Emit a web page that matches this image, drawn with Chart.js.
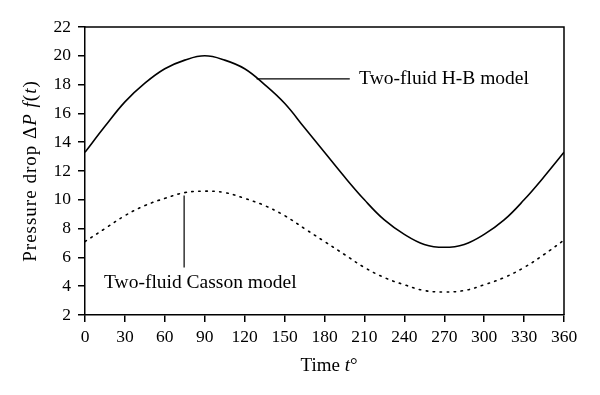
<!DOCTYPE html>
<html>
<head>
<meta charset="utf-8">
<script src="https://cdn.jsdelivr.net/npm/chart.js@4"></script>
<style>
  html, body { margin: 0; padding: 0; background: #fff; }
  #wrap { width: 600px; height: 395px; }
</style>
</head>
<body>
<div id="wrap"><canvas id="pressure-chart" width="600" height="395"></canvas></div>
<script>
// Time (degrees) and pressure drop
const timeDeg = [0, 15, 30, 45, 60, 75, 90, 105, 120, 135, 150, 165, 180,
                 195, 210, 225, 240, 255, 270, 285, 300, 315, 330, 345, 360];
const hbModel = [13.3, 15.1, 16.8, 18.1, 19.1, 19.7, 20.0, 19.7, 19.1, 18.0, 16.7, 15.0, 13.3,
                 11.6, 10.0, 8.6, 7.6, 6.9, 6.7, 6.9, 7.6, 8.6, 10.0, 11.6, 13.3];
const cassonModel = [7.1, 8.0, 8.9, 9.6, 10.1, 10.5, 10.6, 10.5, 10.1, 9.6, 8.9, 8.0, 7.1,
                     6.2, 5.3, 4.6, 4.1, 3.7, 3.6, 3.7, 4.1, 4.6, 5.3, 6.2, 7.2];
const xTicks = [0, 30, 60, 90, 120, 150, 180, 210, 240, 270, 300, 330, 360];
const yTicks = [2, 4, 6, 8, 10, 12, 14, 16, 18, 20, 22];

const FONT = '"Liberation Serif", "DejaVu Serif", serif';

function toPoints(values) {
    return timeDeg.map((t, i) => ({ x: t, y: values[i] }));
}

// Frame, leader lines and axis titles with italic parts
const decorations = {
    id: 'decorations',
    afterDraw(chart) {
        const ctx = chart.ctx;
        const area = chart.chartArea;
        const xs = chart.scales.x;
        const ys = chart.scales.y;
        ctx.save();
        ctx.strokeStyle = '#000';
        ctx.lineWidth = 1.5;
        // top and right edges of the box
        ctx.beginPath();
        ctx.moveTo(area.left, area.top);
        ctx.lineTo(area.right, area.top);
        ctx.lineTo(area.right, area.bottom);
        ctx.stroke();

        // H-B label
        ctx.lineWidth = 1.2;
        ctx.beginPath();
        ctx.moveTo(xs.getPixelForValue(129), ys.getPixelForValue(18.4));
        ctx.lineTo(xs.getPixelForValue(199), ys.getPixelForValue(18.4));
        ctx.stroke();
        ctx.fillStyle = '#000';
        ctx.font = '19.5px ' + FONT;
        ctx.textBaseline = 'middle';
        ctx.textAlign = 'left';
        ctx.fillText('Two-fluid H-B model', xs.getPixelForValue(206), ys.getPixelForValue(18.4));

        // Casson label
        ctx.beginPath();
        ctx.moveTo(xs.getPixelForValue(74.5), ys.getPixelForValue(10.3));
        ctx.lineTo(xs.getPixelForValue(74.5), ys.getPixelForValue(5.3));
        ctx.stroke();
        ctx.fillText('Two-fluid Casson model', xs.getPixelForValue(14.3), ys.getPixelForValue(4.2));

        // x title: Time t°
        const xParts = [['Time ', false], ['t', true], ['\u00B0', false]];
        drawParts(ctx, xParts, 329, 366, '0px');

        // y title: Pressure drop ΔPf(t)
        ctx.translate(31, 171);
        ctx.rotate(-Math.PI / 2);
        const yParts = [['Pressure drop \u0394', false], ['P f', true], ['(', false], ['t', true], [')', false]];
        drawParts(ctx, yParts, 0, 0, '1px');
        ctx.restore();
    }
};

function drawParts(ctx, parts, cx, cy, spacing) {
    ctx.letterSpacing = spacing;
    let total = 0;
    parts.forEach(p => {
        ctx.font = (p[1] ? 'italic ' : '') + '19px ' + FONT;
        total += ctx.measureText(p[0]).width;
    });
    let x = cx - total / 2;
    ctx.textAlign = 'left';
    ctx.textBaseline = 'middle';
    parts.forEach(p => {
        ctx.font = (p[1] ? 'italic ' : '') + '19px ' + FONT;
        ctx.fillText(p[0], x, cy);
        x += ctx.measureText(p[0]).width;
    });
    ctx.letterSpacing = '0px';
}

const config = {
    type: 'line',
    data: {
        datasets: [{
            label: 'Two-fluid H-B model',
            data: toPoints(hbModel),
            borderColor: '#000',
            borderWidth: 1.6,
            pointRadius: 0,
            tension: 0.4
        }, {
            label: 'Two-fluid Casson model',
            data: toPoints(cassonModel),
            borderColor: '#000',
            borderWidth: 1.6,
            borderDash: [1.5, 5.5],
            borderCapStyle: 'round',
            pointRadius: 0,
            tension: 0.4
        }]
    },
    options: {
        responsive: false,
        animation: false,
        events: [],
        layout: { padding: { left: 0, right: 36, top: 27, bottom: 0 } },
        plugins: {
            legend: { display: false },
            tooltip: { enabled: false }
        },
        scales: {
            x: {
                type: 'linear',
                min: 0,
                max: 360,
                afterBuildTicks: scale => { scale.ticks = xTicks.map(v => ({ value: v })); },
                afterFit: scale => { scale.height = 80; },
                ticks: {
                    color: '#000',
                    padding: 5,
                    maxRotation: 0,
                    font: { family: FONT, size: 17.5 }
                },
                grid: { drawOnChartArea: false, drawTicks: true, tickLength: 7, color: '#000', lineWidth: 1.5 },
                border: { display: true, color: '#000', width: 1.5 }
            },
            y: {
                min: 2,
                max: 22,
                afterBuildTicks: scale => { scale.ticks = yTicks.map(v => ({ value: v })); },
                afterFit: scale => { scale.width = 85; },
                ticks: {
                    color: '#000',
                    padding: 7,
                    font: { family: FONT, size: 17.5 }
                },
                grid: { drawOnChartArea: false, drawTicks: true, tickLength: 7, color: '#000', lineWidth: 1.5 },
                border: { display: true, color: '#000', width: 1.5 }
            }
        }
    },
    plugins: [decorations]
};

new Chart(document.getElementById('pressure-chart'), config);
</script>
</body>
</html>
